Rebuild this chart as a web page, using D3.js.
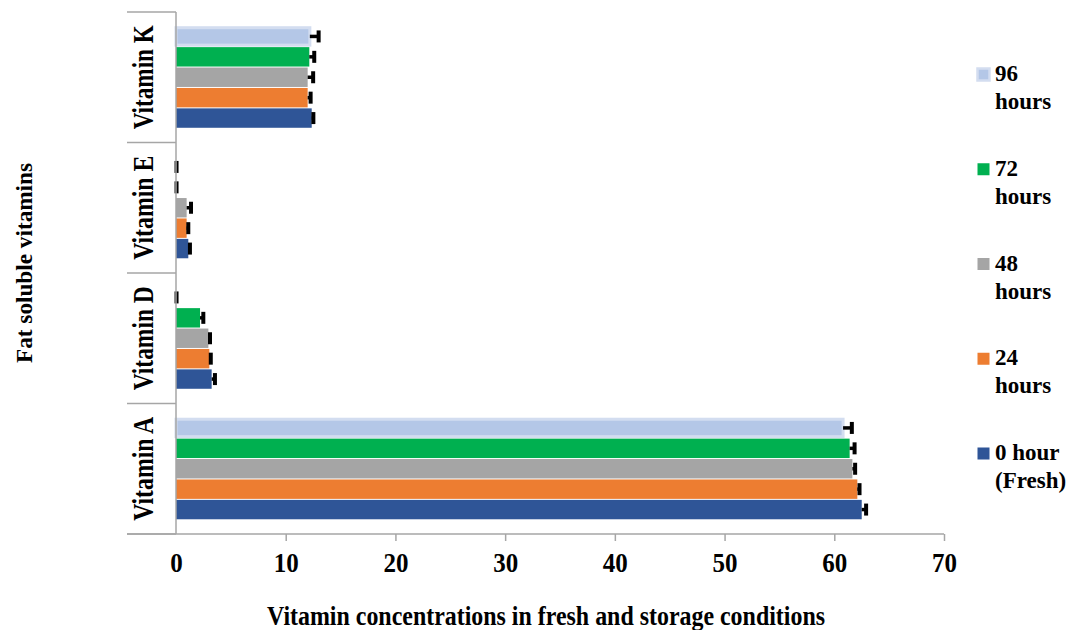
<!DOCTYPE html>
<html>
<head>
<meta charset="utf-8">
<script src="https://cdn.jsdelivr.net/npm/d3@7"></script>
<style>
  html, body { margin: 0; padding: 0; background: #fff; }
  svg { display: block; }
  text { font-family: "Liberation Serif", "Times New Roman", serif; font-weight: bold; fill: #000; }
</style>
</head>
<body>
<svg id="chart" width="1072" height="630"></svg>
<script>
// ---- data ----
const categories = ["Vitamin K", "Vitamin E", "Vitamin D", "Vitamin A"]; // top to bottom
const seriesNames = ["96 hours", "72 hours", "48 hours", "24 hours", "0 hour (Fresh)"]; // top to bottom in each group
const seriesColors = ["#B4C7E7", "#00B050", "#A5A5A5", "#ED7D31", "#2F5597"];
// values per category [K, E, D, A]
const values96h = [12.2, 0, 0, 60.8];
const values72h = [12.15, 0, 2.19, 61.4];
const values48h = [12.0, 0.97, 2.95, 61.65];
const values24h = [12.0, 0.97, 3.04, 62.1];
const values0h  = [12.37, 1.12, 3.25, 62.5];
const errors96h = [0.8, 0.05, 0.05, 0.8];
const errors72h = [0.45, 0.05, 0.3, 0.45];
const errors48h = [0.5, 0.4, 0.15, 0.25];
const errors24h = [0.27, 0.15, 0.13, 0.2];
const errors0h  = [0.15, 0.15, 0.3, 0.4];
const xTicks = [0, 10, 20, 30, 40, 50, 60, 70];
const legendLines = [["96", "hours"], ["72", "hours"], ["48", "hours"], ["24", "hours"], ["0 hour", "(Fresh)"]];
const xTitle = "Vitamin concentrations in fresh and storage conditions";
const yTitle = "Fat soluble vitamins";

const seriesValues = [values96h, values72h, values48h, values24h, values0h];
const seriesErrors = [errors96h, errors72h, errors48h, errors24h, errors0h];

// ---- layout ----
const svg = d3.select("#chart");
const plot = { left: 176, right: 944, top: 12, bottom: 534 };
const axisColor = "#A6A6A6";

const x = d3.scaleLinear().domain([0, 70]).range([plot.left, plot.right]);
const y = d3.scaleBand().domain(categories).range([plot.top, plot.bottom])
  .paddingInner(0.218).paddingOuter(0.109);
const yInner = d3.scaleBand().domain(seriesNames).range([0, y.bandwidth()]).padding(0);

const rows = [];
categories.forEach((c, ci) => {
  seriesNames.forEach((s, si) => {
    rows.push({ cat: c, series: s, si, value: seriesValues[si][ci], err: seriesErrors[si][ci] });
  });
});

// bars
svg.append("g").selectAll("rect").data(rows).join("rect")
  .attr("x", x(0))
  .attr("y", d => y(d.cat) + yInner(d.series) + (d.si === 0 ? 1.5 : 0.5))
  .attr("width", d => Math.max(0, x(d.value) - x(0)))
  .attr("height", d => yInner.bandwidth() - (d.si === 0 ? 3 : 1))
  .attr("fill", d => seriesColors[d.si])
  .attr("stroke", d => d.si === 0 && d.value > 0 ? "#D3DDF0" : "none")
  .attr("stroke-width", 3);

// error bars (plus side)
const eb = svg.append("g");
rows.forEach(d => {
  const yc = y(d.cat) + yInner(d.series) + yInner.bandwidth() / 2;
  const x0 = x(d.value), x1 = x(d.value + d.err);
  eb.append("line").attr("x1", x0).attr("x2", x1).attr("y1", yc).attr("y2", yc)
    .attr("stroke", "#000").attr("stroke-width", 3.5);
  eb.append("line").attr("x1", x1).attr("x2", x1).attr("y1", yc - 6).attr("y2", yc + 6)
    .attr("stroke", "#000").attr("stroke-width", 4);
});

// axes
const ax = svg.append("g");
ax.append("line").attr("x1", 127).attr("x2", plot.right).attr("y1", plot.bottom).attr("y2", plot.bottom)
  .attr("stroke", axisColor).attr("stroke-width", 1.5);
ax.append("line").attr("x1", plot.left).attr("x2", plot.left).attr("y1", plot.top).attr("y2", plot.bottom)
  .attr("stroke", axisColor).attr("stroke-width", 1.5);
const bounds = categories.map(c => y(c) - y.step() * y.paddingInner() / 2).concat([plot.bottom]);
ax.selectAll("line.sep").data(bounds).join("line").attr("class", "sep")
  .attr("x1", 127).attr("x2", plot.left).attr("y1", d => d).attr("y2", d => d)
  .attr("stroke", axisColor).attr("stroke-width", 1.5);

// x ticks and labels
const xAxis = d3.axisBottom(x).tickValues(xTicks).tickSize(7).tickFormat(d3.format("d"));
const gx = svg.append("g").attr("transform", `translate(0,${plot.bottom})`).call(xAxis);
gx.select(".domain").remove();
gx.selectAll(".tick line").attr("stroke", axisColor).attr("stroke-width", 1.5)
  .attr("display", d => d === 0 ? "none" : null);
gx.selectAll(".tick text").attr("y", 38).attr("dy", 0)
  .attr("textLength", d => String(d).length * 12.5).attr("lengthAdjust", "spacingAndGlyphs")
  .style("font-family", "'Liberation Serif', 'Times New Roman', serif")
  .style("font-weight", "bold").style("font-size", "27px").attr("fill", "#000");

// category labels
svg.append("g").selectAll("text").data(categories).join("text")
  .attr("transform", d => `translate(153,${y(d) + y.bandwidth() / 2}) rotate(-90)`)
  .attr("text-anchor", "middle")
  .attr("textLength", 104).attr("lengthAdjust", "spacingAndGlyphs")
  .style("font-size", "29px")
  .text(d => d);

// axis titles
svg.append("text").attr("x", 546).attr("y", 625).attr("text-anchor", "middle")
  .attr("textLength", 558).attr("lengthAdjust", "spacingAndGlyphs")
  .style("font-size", "27px").text(xTitle);
svg.append("text").attr("transform", "translate(32,263) rotate(-90)").attr("text-anchor", "middle")
  .attr("textLength", 200).attr("lengthAdjust", "spacingAndGlyphs")
  .style("font-size", "23px").text(yTitle);

// legend
const lg = svg.append("g");
seriesNames.forEach((s, i) => {
  const top = 68 + i * 94.75;
  lg.append("rect").attr("x", 977.5).attr("y", top + 0.5).attr("width", 12).attr("height", 12)
    .attr("fill", seriesColors[i])
    .attr("stroke", i === 0 ? "#D3DDF0" : "none").attr("stroke-width", 2.5);
  const t = lg.append("text").attr("x", 995).attr("y", top + 13).style("font-size", "23px");
  t.append("tspan").attr("x", 995).text(legendLines[i][0]);
  t.append("tspan").attr("x", 995).attr("dy", 28).text(legendLines[i][1]);
});
</script>
</body>
</html>
